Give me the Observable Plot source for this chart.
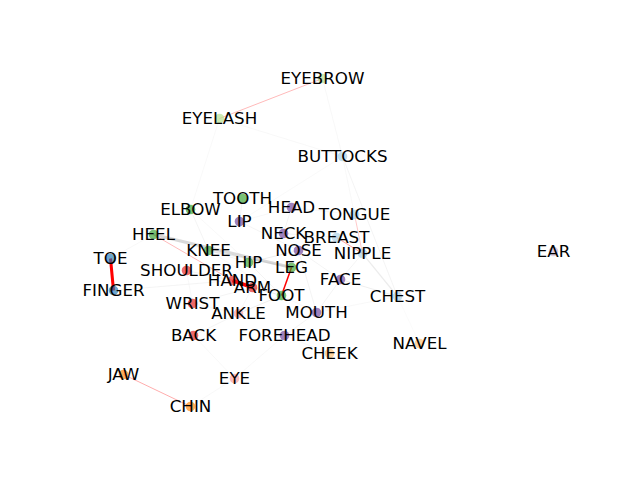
<!DOCTYPE html>
<html><head><meta charset="utf-8">
<script src="https://cdn.jsdelivr.net/npm/d3@7"></script>
<script src="https://cdn.jsdelivr.net/npm/@observablehq/plot@0.6"></script>
<style>body{margin:0;background:#fff}</style>
</head><body><div id="chart"></div>
<script>
// node names, layout positions and groups
const names = ["EYEBROW","EYELASH","BUTTOCKS","TOOTH","ELBOW","HEAD","LIP","TONGUE","HEEL","NECK","BREAST","KNEE","NOSE","NIPPLE","TOE","HIP","LEG","SHOULDER","FACE","HAND","ARM","FINGER","FOOT","CHEST","WRIST","ANKLE","MOUTH","BACK","FOREHEAD","CHEEK","NAVEL","JAW","EYE","CHIN","EAR"];
const posX = [322,219,342,242,190,291,239,354,153,283,336,208,298,362,110,248,291,186,340,232,252,113,281,397,192,238,316,193,284,329,419,123,234,190,553];
const posY = [78,118,156,198,209,207,221,214,234,233,237,250,250,253,258,262,267,270,279,280,287,290,295,296,303,313,312,335,335,353,343,374,378,406,251];
const groups = ["c2","c2","c0","c3","c3","c9","c9","c0","c3","c9","c0","c3","c9","c0","c1","c3","c3","c5","c9","c5","c5","c1","c3","c0","c5","c4","c9","c5","c9","c6","c6","c7","c4","c7","c8"];
const groupDomain = ["c0","c1","c2","c3","c4","c5","c6","c7","c8","c9"];
const groupColors = ["#a6cee3","#1f78b4","#b2df8a","#33a02c","#fb9a99","#e31a1c","#fdbf6f","#ff7f00","#cab2d6","#6a3d9a"];

// edges: source, target, weight, kind (strong = red)
const edgeSource = ["TOE","HAND","LEG","EYELASH","JAW","BREAST","HEEL","TONGUE",
  "HEEL","KNEE","HIP","ARM","NIPPLE","BUTTOCKS","EYELASH","EYEBROW","BUTTOCKS","ELBOW","TOOTH","LIP","HEAD","NECK","NOSE","KNEE","SHOULDER","WRIST","ANKLE","BACK","FOREHEAD","EYE","MOUTH","FACE","CHEST","FINGER","TOE","HEEL","ELBOW","HIP","ANKLE","BACK","FOREHEAD","MOUTH","FACE","NOSE","HEAD","LIP","SHOULDER","WRIST","CHIN","EYELASH","BUTTOCKS","KNEE","FOOT"];
const edgeTarget = ["FINGER","ARM","FOOT","EYEBROW","CHIN","NIPPLE","HAND","NIPPLE",
  "LEG","LEG","NOSE","FOOT","CHEST","CHEST","BUTTOCKS","BUTTOCKS","TONGUE","KNEE","LIP","NOSE","NECK","BREAST","FACE","HIP","HAND","ARM","FOOT","ANKLE","MOUTH","FOREHEAD","FACE","CHEST","NAVEL","HAND","HEEL","KNEE","HIP","FOOT","ARM","EYE","CHEEK","CHEST","NIPPLE","MOUTH","TONGUE","HEAD","WRIST","ANKLE","EYE","ELBOW","LIP","FOOT","MOUTH"];
const edgeWeight = [3,3.5,1.5,0.5,0.6,0.7,0.5,0.4,
  3,1.5,1,1.2,1.2,0.8,0.6,0.6,0.6,0.8,0.8,0.8,0.8,0.8,0.8,0.8,0.8,0.8,1,0.8,0.8,0.6,0.8,1,0.4,0.8,0.6,0.6,0.6,0.8,0.6,0.6,0.6,0.6,0.8,0.8,0.6,0.6,0.6,0.6,0.6,0.5,0.5,0.6,0.6];
const edgeKind = ["strong","strong","strong","strong","strong","strong","strong","strong",
  "weak","weak","weak","weak","weak","weak","weak","weak","weak","weak","weak","weak","weak","weak","weak","weak","weak","weak","weak","weak","weak","weak","weak","weak","weak","weak","weak","weak","weak","weak","weak","weak","weak","weak","weak","weak","weak","weak","weak","weak","weak","weak","weak","weak","weak"];

const nodes = names.map((n,i)=>({name:n, x:posX[i], y:posY[i], group:groups[i]}));
const byName = new Map(nodes.map(d=>[d.name,d]));
const edges = edgeSource.map((s,i)=>({s:byName.get(s), t:byName.get(edgeTarget[i]), w:edgeWeight[i], kind:edgeKind[i]}));

const chart = Plot.plot({
  width:640, height:480, margin:0,
  x:{domain:[0,640], range:[0,640], axis:null},
  y:{domain:[0,480], range:[0,480], axis:null},
  color:{domain:groupDomain, range:groupColors},
  style:{background:"#fff"},
  marks:[
    Plot.link(edges.filter(d=>d.kind==="weak"), {x1:d=>d.s.x, y1:d=>d.s.y, x2:d=>d.t.x, y2:d=>d.t.y,
      stroke:"#b0b0b0", strokeOpacity:d=>Math.min(0.55, 0.08 + d.w*0.13), strokeWidth:d=>d.w}),
    Plot.link(edges.filter(d=>d.kind==="strong"), {x1:d=>d.s.x, y1:d=>d.s.y, x2:d=>d.t.x, y2:d=>d.t.y,
      stroke:"#ff0000", strokeOpacity:d=>d.w>=1.5?1:0.55, strokeWidth:d=>d.w}),
    Plot.dot(nodes, {x:"x", y:"y", r:4.8, fill:"group", fillOpacity:0.65, stroke:null}),
    Plot.text(nodes, {x:"x", y:"y", text:"name", fontSize:16.7, fill:"black",
      fontFamily:"DejaVu Sans", textAnchor:"middle"})
  ]
});
document.getElementById("chart").appendChild(chart);
</script></body></html>
